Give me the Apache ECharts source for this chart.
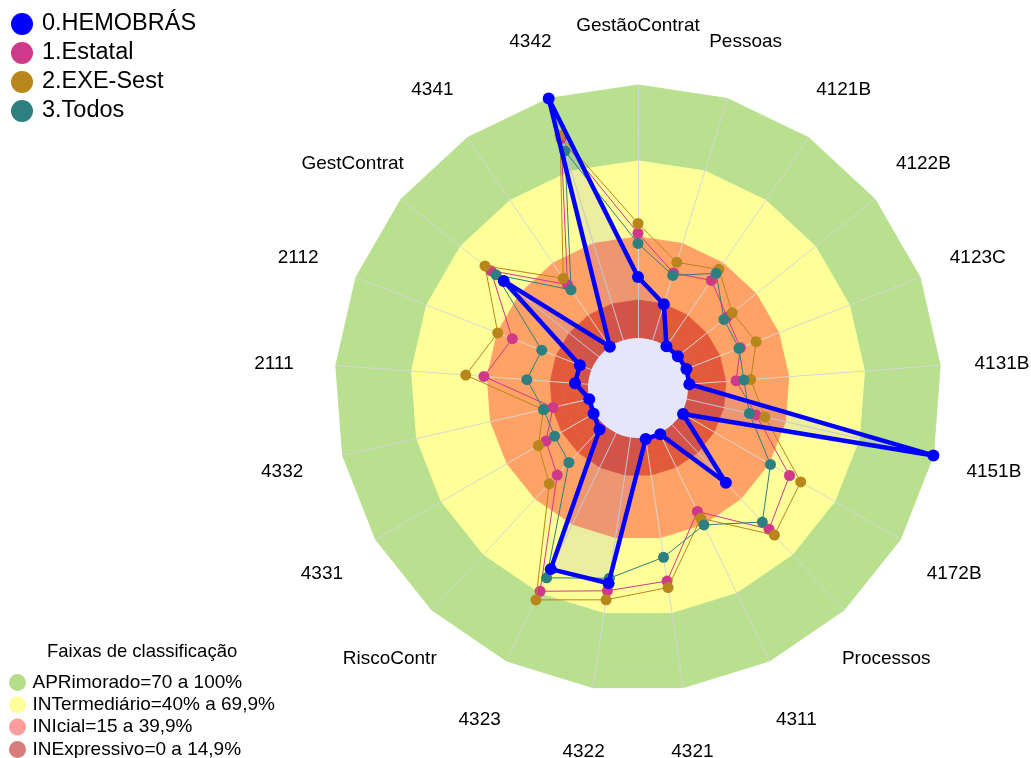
<!DOCTYPE html>
<html>
<head>
<meta charset="utf-8">
<script src="https://cdn.jsdelivr.net/npm/echarts@6/dist/echarts.min.js"></script>
<style>
  html, body { margin: 0; padding: 0; background: #fff; }
  #chartWrap { width: 1031px; height: 758px; }
</style>
</head>
<body>
<div id="chartWrap"></div>
<script>
// eixos na ordem horaria, a partir do topo
var categories = ['GestãoContrat', 'Pessoas', '4121B', '4122B', '4123C', '4131B', '4151B', '4172B',
    'Processos', '4311', '4321', '4322', '4323', 'RiscoContr', '4331', '4332', '2111', '2112',
    'GestContrat', '4341', '4342'];

var seriesNames = ['0.HEMOBRÁS', '1.Estatal', '2.EXE-Sest', '3.Todos'];

// valores (%), mesma ordem de categories
var hemobras = [24.1, 14.9, 0.2, 0.4, 0.8, 0.6, 100, 0.8, 31.3, 0.5, 0.6, 58.3, 59.7, 2.6, 0.5, 0, 5.2, 4.9, 48.1, 0, 100];
var estatal  = [41.4, 27.8, 31.7, 25.3, 23.7, 19.1, 28.1, 49.4, 56.4, 34.4, 57.4, 61.3, 69.4, 27.2, 22.2, 14.7, 41.3, 33.6, 54.6, 29.7, 83.4];
var exeSest  = [45.3, 32.2, 37.0, 27.9, 30.4, 24.9, 31.7, 54.5, 59.5, 37.4, 60.0, 64.9, 73.2, 31.8, 25.7, 18.6, 48.5, 39.8, 57.6, 32.7, 84.8];
var todos    = [37.4, 26.8, 35.1, 23.7, 23.1, 22.2, 25.4, 40.7, 52.5, 40.3, 47.9, 56.3, 63.5, 20.4, 18.3, 18.5, 24.3, 21.1, 52.0, 27.2, 78.3];

// faixas de classificacao
var bandNames = ['APRimorado=70 a 100%', 'INTermediário=40% a 69,9%', 'INIcial=15 a 39,9%', 'INExpressivo=0 a 14,9%'];
var bandLimits = [100, 70, 40, 15];

var font = 'Liberation Sans, Arial, sans-serif';
var lineColors = ['#0000FF', '#D0388A', '#B8861A', '#2E8080'];
var bandLegendColors = ['#B5DE8A', '#FFFF99', '#FF9C9C', '#D87C7C'];
var bandAreaColors = ['#B9E08E', '#FFFF99', '#FFA266', '#E25A3A']; // cores dos aneis no grafico

// echarts desenha os eixos no sentido anti-horario: inverte a ordem (mantendo o primeiro no topo)
var n = categories.length;
var order = categories.map(function (_, i) { return (n - i) % n; });
function reorder(arr) { return order.map(function (i) { return arr[i]; }); }

var indicator = reorder(categories).map(function (c) { return { name: c, min: 0, max: 100 }; });

// 20 aneis de 5% -> cor da faixa correspondente
var ringColors = [];
for (var k = 0; k < 20; k++) {
    var upper = (k + 1) * 5;
    var b = 0;
    for (var j = bandLimits.length - 1; j >= 0; j--) {
        if (upper <= bandLimits[j]) { b = j; break; }
    }
    ringColors.push(bandAreaColors[b]);
}
// linhas dos aneis na mesma cor, so para tapar as emendas
var ringLineColors = [ringColors[0]].concat(ringColors);

var center = [638, 388];

var myChart = echarts.init(document.getElementById('chartWrap'));

var lineSeries = [estatal, exeSest, todos, hemobras].map(function (vals, i) {
    var idx = i === 3 ? 0 : i + 1;
    var isMain = idx === 0;
    return {
        type: 'radar',
        radarIndex: 0,
        z: 5 + i,
        symbol: 'circle',
        symbolSize: isMain ? 12 : 11,
        lineStyle: { width: isMain ? 4.5 : 1, color: lineColors[idx] },
        itemStyle: { color: lineColors[idx] },
        silent: true,
        data: [{ name: seriesNames[idx], value: reorder(vals) }]
    };
});

var option = {
    animation: false,
    backgroundColor: '#fff',
    textStyle: { fontFamily: font },
    title: {
        text: 'Faixas de classificação',
        left: 42,
        top: 637,
        textStyle: { fontSize: 18.5, fontWeight: 'normal', color: '#000', fontFamily: font }
    },
    legend: [{
        data: seriesNames,
        orient: 'vertical',
        left: 6,
        top: 7,
        icon: 'circle',
        itemWidth: 30,
        itemHeight: 22,
        itemGap: 5,
        selectedMode: false,
        textStyle: { fontSize: 23.5, color: '#000', fontFamily: font }
    }, {
        data: bandNames,
        orient: 'vertical',
        left: 9,
        top: 673,
        height: 120,
        padding: 0,
        icon: 'circle',
        itemWidth: 20,
        itemHeight: 17,
        itemGap: 3.3,
        selectedMode: false,
        textStyle: { fontSize: 19, color: '#000', fontFamily: font }
    }],
    radar: [{
        center: center,
        radius: [50, 303],
        startAngle: 90,
        shape: 'polygon',
        splitNumber: 20,
        indicator: indicator,
        z: 0,
        axisName: {
            align: 'center',
            verticalAlign: 'middle',
            formatter: function (name) { return '{a|' + name + '}'; },
            rich: {
                a: { color: '#000', fontSize: 19, fontFamily: font, padding: [6, 0, 0, 0] }
            }
        },
        nameGap: 62,
        axisLine: { lineStyle: { color: '#D6D6D6', width: 1 } },
        splitLine: { show: true, lineStyle: { color: ringLineColors, width: 1 } },
        splitArea: { show: true, areaStyle: { color: ringColors, opacity: 1 } }
    }, {
        // miolo lilas
        center: center,
        radius: 50,
        startAngle: 90,
        shape: 'circle',
        splitNumber: 1,
        indicator: indicator,
        z: 3,
        silent: true,
        axisName: { show: false },
        axisLine: { show: false },
        axisTick: { show: false },
        axisLabel: { show: false },
        splitLine: { show: false },
        splitArea: { show: true, areaStyle: { color: ['#E6E6FA'], opacity: 1 } }
    }],
    series: [{
        // preenchimento do poligono da HEMOBRAS (abaixo do miolo)
        type: 'radar',
        radarIndex: 0,
        z: 1,
        symbol: 'none',
        silent: true,
        lineStyle: { width: 0 },
        itemStyle: { color: lineColors[0] },
        areaStyle: { color: 'rgba(0,0,255,0.1)' },
        data: [{ name: seriesNames[0], value: reorder(hemobras) }]
    }, {
        // so para a legenda das faixas
        type: 'radar',
        radarIndex: 0,
        z: 1,
        symbol: 'none',
        silent: true,
        lineStyle: { width: 0, opacity: 0 },
        data: bandNames.map(function (name, i) {
            return { name: name, value: categories.map(function () { return 0; }), itemStyle: { color: bandLegendColors[i] } };
        })
    }].concat(lineSeries)
};

myChart.setOption(option);
</script>
</body>
</html>
